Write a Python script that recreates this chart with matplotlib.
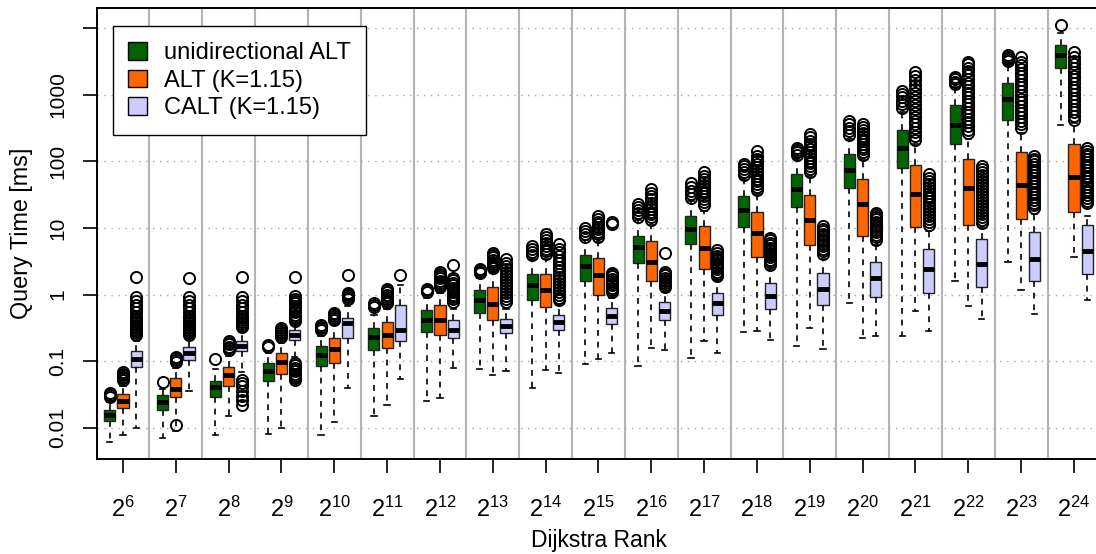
import matplotlib
matplotlib.use("Agg")
import matplotlib.pyplot as plt
import numpy as np
from matplotlib.patches import Patch
from matplotlib.ticker import NullLocator

plt.rcParams["font.family"] = ["Liberation Sans", "DejaVu Sans"]
plt.rcParams["mathtext.default"] = "regular"

# Dijkstra rank exponents (x categories)
ranks = list(range(6, 25))
series_names = ["unidirectional ALT", "ALT (K=1.15)", "CALT (K=1.15)"]
series_colors = ["#006400", "#ff6600", "#ccccff"]

# unidirectional ALT: whisker low, q1, median, q3, whisker high, outliers [ms]
uni_lo = [0.006, 0.0071, 0.0078, 0.0081, 0.0078, 0.0147, 0.0249, 0.077, 0.0397, 0.091,
          0.085, 0.11, 0.271, 0.169, 0.74, 0.242, 1.62, 3.06, 355]
uni_q1 = [0.0127, 0.0185, 0.0286, 0.0497, 0.0835, 0.149, 0.278, 0.53, 0.84, 1.62,
          3.0, 5.78, 10.5, 20.6, 40.2, 79.3, 180, 424, 2570]
uni_med = [0.0157, 0.0246, 0.0404, 0.072, 0.125, 0.228, 0.417, 0.82, 1.41, 2.64,
           5.14, 9.5, 18.3, 37.9, 73.2, 161, 348, 877, 3930]
uni_q3 = [0.0187, 0.0313, 0.0509, 0.0927, 0.171, 0.316, 0.594, 1.15, 2.0, 3.86,
          7.45, 14.9, 30.1, 63.8, 127, 293, 695, 1500, 5550]
uni_hi = [0.024, 0.038, 0.075, 0.13, 0.24, 0.5, 0.9, 1.8, 3.4, 6.5,
          13, 25, 55, 110, 220, 560, 1300, 2900, 8500]
uni_out = [
    [0.029, 0.031, 0.033],
    [0.049],
    [0.108],
    [0.16, 0.175],
    [0.29, 0.31, 0.33, 0.35],
    [0.65, 0.7, 0.75],
    [1.1, 1.15, 1.2],
    [2.08, 2.2, 2.32, 2.44],
    [3.9, 4.3, 4.8, 5.4],
    [7.4, 8.2, 9.1, 10.1],
    [14.8, 16.5, 18.5, 20.5, 22.6],
    [28.3, 32, 36, 41, 48],
    [63, 70, 78, 85, 91],
    [125, 137, 149, 161],
    [250, 285, 320, 360, 407],
    [630, 720, 820, 930, 1040, 1150],
    [1450, 1570, 1700, 1820],
    [3170, 3420, 3700, 3960],
    [11100],
]

# ALT (K=1.15)
alt_lo = [0.0078, 0.0088, 0.015, 0.0099, 0.012, 0.022, 0.0276, 0.062, 0.074, 0.106,
          0.157, 0.198, 0.287, 0.316, 0.223, 0.575, 0.683, 1.18, 3.64]
alt_q1 = [0.020, 0.0286, 0.0428, 0.064, 0.0927, 0.158, 0.248, 0.42, 0.644, 1.0,
          1.58, 2.43, 3.64, 5.59, 7.53, 10.3, 10.9, 13.7, 17.3]
alt_med = [0.025, 0.038, 0.062, 0.096, 0.153, 0.25, 0.417, 0.725, 1.15, 1.93,
           3.13, 5.04, 8.35, 13.3, 22.6, 31.9, 40.2, 43.6, 58]
alt_q3 = [0.0324, 0.0558, 0.0826, 0.131, 0.223, 0.383, 0.684, 1.29, 2.05, 3.5,
          6.27, 10.6, 17.3, 30.8, 55, 89, 110, 138, 180]
alt_hi = [0.042, 0.078, 0.12, 0.19, 0.36, 0.6, 1.05, 2.1, 3.4, 6.2,
          11, 18, 32, 60, 110, 180, 220, 270, 380]
alt_out = [
    [0.052, 0.055, 0.058, 0.062, 0.065, 0.068],
    [0.011, 0.098, 0.104, 0.11, 0.116],
    [0.145, 0.155, 0.165, 0.178, 0.19, 0.2],
    [0.23, 0.245, 0.26, 0.275, 0.29, 0.31],
    [0.42, 0.45, 0.48, 0.51, 0.53],
    [0.74, 0.8, 0.86, 0.93, 1.0, 1.08, 1.15, 1.22],
    [1.3, 1.4, 1.5, 1.62, 1.75, 1.88, 2.0, 2.15],
    [2.5, 2.7, 2.9, 3.1, 3.35, 3.6, 3.9, 4.2],
    [4.1, 4.5, 4.9, 5.4, 5.9, 6.5, 7.2, 8.0],
    [7.4, 8.0, 8.7, 9.5, 10.4, 11.3, 12.3, 13.6, 15.1],
    [13.2, 14.5, 16, 17.5, 19.5, 21.5, 24, 27, 30, 34, 38],
    [22.3, 24.5, 27, 30, 33, 36.5, 40, 44.5, 49, 54, 60, 69.5],
    [37, 41, 45.5, 50, 55, 61, 67, 74, 82, 91, 100, 110, 122, 144],
    [70, 77, 85, 94, 103, 114, 125, 138, 152, 168, 185, 205, 230, 258],
    [126, 138, 151, 166, 182, 200, 220, 242, 266, 292, 325, 360],
    [210, 240, 275, 315, 360, 410, 470, 540, 620, 710, 810, 930, 1070, 1230,
     1420, 1650, 1900, 2200],
    [265, 300, 340, 385, 435, 495, 560, 635, 720, 815, 925, 1050, 1190, 1350,
     1530, 1740, 1970, 2240, 2540, 2880, 3135],
    [316, 360, 410, 465, 530, 600, 680, 775, 880, 1000, 1140, 1290, 1470, 1670,
     1900, 2150, 2450, 2780, 3160, 3640],
    [421, 480, 545, 620, 705, 800, 910, 1030, 1170, 1330, 1510, 1720, 1950, 2220,
     2520, 2860, 3250, 3700, 4330],
]

# CALT (K=1.15)
cal_lo = [0.0099, 0.0351, 0.068, 0.115, 0.0397, 0.053, 0.078, 0.071, 0.067, 0.13,
          0.145, 0.134, 0.209, 0.15, 0.242, 0.28, 0.43, 0.51, 0.84]
cal_q1 = [0.0826, 0.102, 0.144, 0.208, 0.22, 0.203, 0.223, 0.262, 0.294, 0.363,
          0.42, 0.5, 0.61, 0.707, 0.91, 1.05, 1.29, 1.62, 2.05]
cal_med = [0.108, 0.130, 0.171, 0.248, 0.37, 0.294, 0.288, 0.342, 0.393, 0.472,
           0.575, 0.74, 0.94, 1.22, 1.74, 2.43, 2.9, 3.44, 4.43]
cal_q3 = [0.140, 0.165, 0.203, 0.288, 0.44, 0.684, 0.417, 0.43, 0.5, 0.622,
          0.766, 1.06, 1.5, 2.09, 3.13, 4.75, 6.9, 8.65, 10.9]
cal_hi = [0.2, 0.22, 0.27, 0.36, 0.68, 1.37, 0.6, 0.6, 0.7, 0.9,
          1.1, 1.6, 2.4, 3.4, 5.5, 9.0, 10.5, 16, 15]
cal_out = [
    [0.25, 0.265, 0.28, 0.295, 0.31, 0.33, 0.35, 0.37, 0.39, 0.42, 0.45, 0.48,
     0.55, 0.62, 0.7, 0.8, 0.92, 1.82],
    [0.25, 0.265, 0.28, 0.295, 0.31, 0.33, 0.35, 0.37, 0.39, 0.42, 0.45, 0.48,
     0.55, 0.62, 0.7, 0.8, 0.92, 1.76],
    [0.022, 0.026, 0.03, 0.035, 0.042, 0.047, 0.052, 0.32, 0.34, 0.36, 0.38, 0.41,
     0.44, 0.48, 0.55, 0.62, 0.7, 0.8, 0.92, 1.82],
    [0.052, 0.056, 0.06, 0.065, 0.07, 0.075, 0.08, 0.086, 0.092, 0.4, 0.43, 0.46,
     0.5, 0.54, 0.58, 0.63, 0.68, 0.74, 0.8, 0.87, 0.95, 1.82],
    [0.87, 0.92, 0.97, 1.02, 1.07, 1.98],
    [1.93],
    [0.78, 0.85, 0.92, 1.0, 1.08, 1.17, 1.27, 1.38, 1.5, 1.65, 1.8, 2.8],
    [0.78, 0.86, 0.95, 1.05, 1.16, 1.28, 1.42, 1.57, 1.74, 1.93, 2.15, 2.4, 2.7,
     3.0, 3.4],
    [0.82, 0.9, 1.0, 1.1, 1.22, 1.35, 1.5, 1.66, 1.84, 2.05, 2.3, 2.6, 2.95, 3.35,
     3.8, 4.3, 4.9, 5.7],
    [1.1, 1.18, 1.27, 1.37, 1.48, 1.6, 1.73, 1.87, 2.0, 2.1, 11.4, 12.2],
    [1.3, 1.38, 1.47, 1.57, 1.68, 1.8, 1.93, 2.05, 2.15, 4.2],
    [1.9, 2.05, 2.2, 2.38, 2.57, 2.78, 3.0, 3.25, 3.5, 3.8, 4.15, 4.6],
    [2.8, 3.05, 3.3, 3.6, 3.9, 4.25, 4.6, 5.0, 5.45, 5.95, 6.5, 7.1],
    [4.1, 4.45, 4.85, 5.3, 5.8, 6.3, 6.9, 7.5, 8.2, 9.0, 9.8, 10.7],
    [6.6, 7.2, 7.85, 8.6, 9.4, 10.3, 11.2, 12.3, 13.4, 14.6, 15.9, 16.8],
    [11, 12.2, 13.5, 15, 16.6, 18.4, 20.4, 22.6, 25, 27.7, 30.7, 34, 37.7, 41.8,
     46.3, 51.3, 56.8, 65],
    [12, 13.3, 14.8, 16.4, 18.2, 20.2, 22.4, 24.8, 27.5, 30.5, 33.8, 37.5, 41.6,
     46.1, 51.1, 56.7, 62.9, 69.7, 77.3, 85],
    [19.8, 21.8, 24, 26.4, 29, 31.9, 35.1, 38.6, 42.5, 46.7, 51.4, 56.5, 62.2,
     68.4, 75.2, 82.7, 91, 100, 110, 121],
    [23.5, 25.8, 28.4, 31.3, 34.4, 37.8, 41.6, 45.8, 50.4, 55.4, 61, 67, 73.8,
     81.2, 89.3, 98, 108, 119, 131, 145, 161],
]


def make_stats(lo, q1, med, q3, hi, out):
    return [
        dict(whislo=a, q1=b, med=c, q3=d, whishi=e, fliers=f)
        for a, b, c, d, e, f in zip(lo, q1, med, q3, hi, out)
    ]


def main() -> None:
    all_stats = [
        make_stats(uni_lo, uni_q1, uni_med, uni_q3, uni_hi, uni_out),
        make_stats(alt_lo, alt_q1, alt_med, alt_q3, alt_hi, alt_out),
        make_stats(cal_lo, cal_q1, cal_med, cal_q3, cal_hi, cal_out),
    ]

    fig = plt.figure(figsize=(10.96, 5.54), dpi=100)
    ax = fig.add_axes([0.0881, 0.1715, 0.9159, 0.8132])
    ax.set_yscale("log")

    n = len(ranks)
    x = np.arange(n)

    # grid: dotted horizontal decades, solid vertical group separators
    for k in range(-2, 5):
        ax.axhline(10.0 ** k, color="#a8a8a8", lw=1.0, ls=(0, (1, 4)), zorder=0)
    for b in x[:-1] + 0.5:
        ax.axvline(b, color="#b4b4b4", lw=1.5, zorder=0)

    offsets = [-0.25, 0.0, 0.25]
    for stats, off, color in zip(all_stats, offsets, series_colors):
        ax.bxp(
            stats,
            positions=x + off,
            widths=0.21,
            capwidths=0.1,
            patch_artist=True,
            manage_ticks=False,
            boxprops=dict(facecolor=color, edgecolor="#222222", linewidth=1.0),
            whiskerprops=dict(color="black", linewidth=1.2, linestyle=(0, (3.5, 3.5))),
            capprops=dict(color="black", linewidth=1.2),
            medianprops=dict(color="black", linewidth=3.5, solid_capstyle="butt"),
            flierprops=dict(marker="o", markerfacecolor="none", markeredgecolor="black",
                            markersize=8, markeredgewidth=1.4),
        )

    ax.set_xlim(-0.5, n - 0.5)
    ax.set_ylim(10 ** -2.471, 10 ** 4.297)

    ax.set_xticks(x)
    ax.set_xticklabels([rf"$2^{{{r}}}$" for r in ranks])
    ax.tick_params(axis="x", length=10, width=1.2, pad=17, labelsize=17)

    yt = [0.01, 0.1, 1, 10, 100, 1000, 10000]
    ax.set_yticks(yt)
    ax.set_yticklabels(["0.01", "0.1", "1", "10", "100", "1000", ""], rotation=90,
                       va="center")
    ax.yaxis.set_minor_locator(NullLocator())
    ax.tick_params(axis="y", length=10, width=1.2, pad=11, labelsize=15)

    for sp in ax.spines.values():
        sp.set_linewidth(1.4)

    ax.set_xlabel("Dijkstra Rank", fontsize=16.5, labelpad=5)
    ax.set_ylabel("Query Time [ms]", fontsize=16.8)
    ax.yaxis.set_label_coords(-0.063, 0.5)

    handles = [Patch(facecolor=c, edgecolor="black", linewidth=1.0) for c in series_colors]
    leg = ax.legend(
        handles, series_names,
        loc="upper left", bbox_to_anchor=(0.016, 0.961), borderaxespad=0,
        fontsize=17, frameon=True, fancybox=False, framealpha=1,
        edgecolor="black", handlelength=0.78, handleheight=0.78,
        handletextpad=0.72, labelspacing=0.24, borderpad=0.67,
    )
    leg.get_frame().set_linewidth(1.0)

    fig.savefig("out.png", dpi=100)
    plt.close(fig)


if __name__ == "__main__":
    main()
